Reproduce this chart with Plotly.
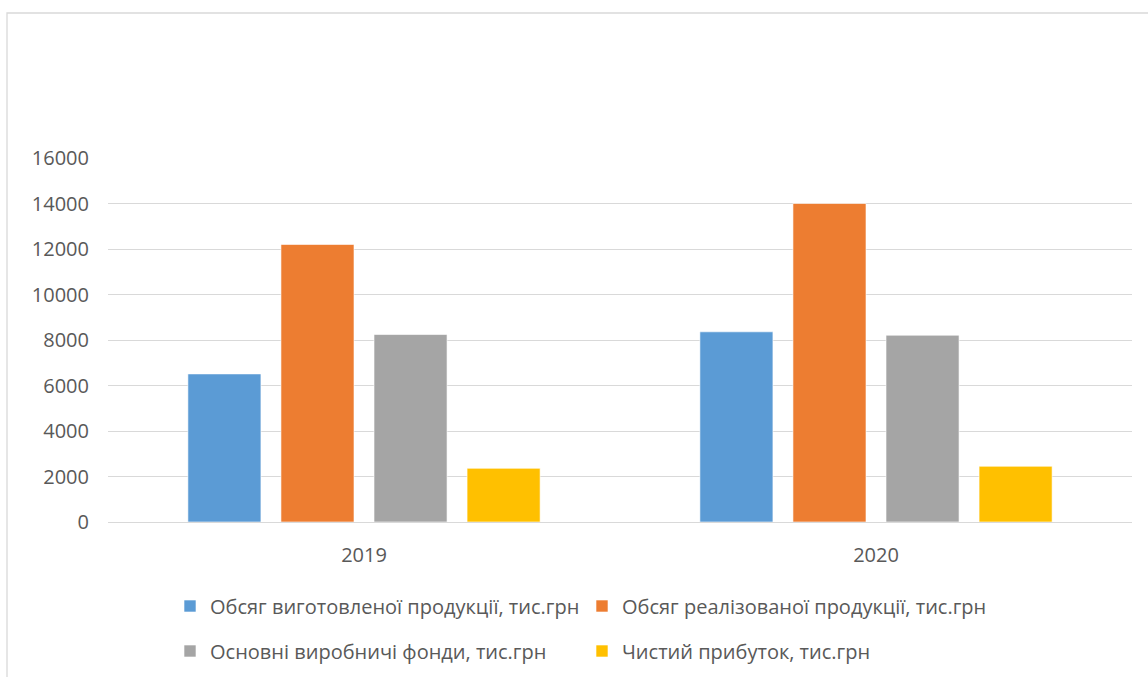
import plotly.graph_objects as go

categories = ["2019", "2020"]
series_names = [
    "Обсяг виготовленої продукції, тис.грн",
    "Обсяг реалізованої продукції, тис.грн",
    "Основні виробничі фонди, тис.грн",
    "Чистий прибуток, тис.грн",
]
vol_produced = [6510, 8360]
vol_sold = [12200, 14000]
fixed_assets = [8240, 8210]
net_profit = [2360, 2450]
colors = ["#5B9BD5", "#ED7D31", "#A5A5A5", "#FFC000"]
y_ticks = [0, 2000, 4000, 6000, 8000, 10000, 12000, 14000, 16000]

W, H = 1148, 677
ML, MR, MT, MB = 108, 16, 158, 155
PW, PH = W - ML - MR, H - MT - MB

font_family = "Open Sans, Noto Sans, sans-serif"
txt_color = "#595959"

fig = go.Figure()
values = [vol_produced, vol_sold, fixed_assets, net_profit]
legends = ["legend", "legend", "legend2", "legend2"]
for name, vals, col, lg in zip(series_names, values, colors, legends):
    fig.add_trace(go.Bar(
        x=categories, y=vals, name=name,
        marker=dict(color=col, line=dict(color="rgba(255,255,255,0.6)", width=1)),
        legend=lg,
    ))

def py(px):
    return (MT + PH - px) / PH

def pxx(px):
    return (px - ML) / PW

legend_common = dict(
    orientation="h", xanchor="left", yanchor="middle",
    xref="container", yref="container",
    font=dict(family=font_family, size=20, color=txt_color),
    entrywidth=367, entrywidthmode="pixels",
    bgcolor="rgba(0,0,0,0)", itemwidth=30, traceorder="normal",
)

fig.update_layout(
    width=W, height=H,
    margin=dict(l=ML, r=MR, t=MT, b=MB, autoexpand=False),
    paper_bgcolor="white", plot_bgcolor="white",
    barmode="group", bargap=0.273, bargroupgap=0.215,
    font=dict(family=font_family, color=txt_color),
    legend=dict(x=170 / W, y=1 - 606 / H, **legend_common),
    legend2=dict(x=170 / W, y=1 - 651 / H, **legend_common),
    xaxis=dict(
        showgrid=False, showline=False, zeroline=False,
        tickfont=dict(family=font_family, size=20, color=txt_color),
        ticklabelstandoff=19,
    ),
    yaxis=dict(
        range=[0, 16000], tickvals=y_ticks, tickformat="d",
        showgrid=True, gridcolor="#D9D9D9", gridwidth=1.3,
        zeroline=True, zerolinecolor="#D9D9D9", zerolinewidth=1.3,
        showline=False,
        tickfont=dict(family=font_family, size=20, color=txt_color),
        ticklabelstandoff=18,
    ),
    shapes=[dict(
        type="rect", xref="paper", yref="paper",
        x0=pxx(7), x1=pxx(1200), y0=py(740), y1=py(13),
        line=dict(color="#D9D9D9", width=1.3), fillcolor="rgba(0,0,0,0)",
        layer="below",
    )],
)

fig.write_html("out.html", config={"displayModeBar": False},
               post_script="document.body.style.margin='0px';")
